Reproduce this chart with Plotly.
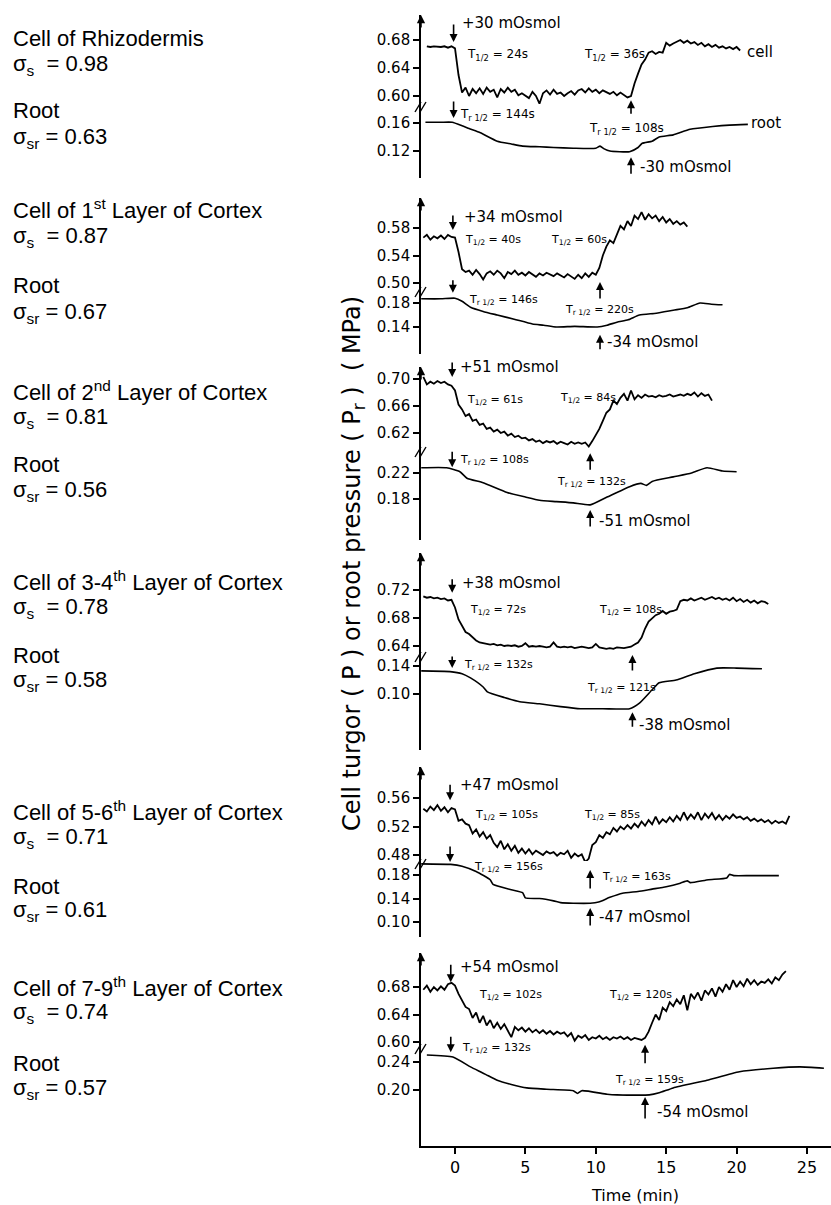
import plotly.graph_objects as go

W, H = 831, 1205
STEP = 0.25  # sampling interval of the cell turgor records (min)

# ------------------------------------------------------------------ data
# Panel 1 : Rhizodermis
cell1_t0 = -2.0
cell1 = [
    0.671, 0.670, 0.671, 0.670,
    0.670, 0.671, 0.669, 0.671,
    0.668, 0.630, 0.605, 0.612,
    0.600, 0.610, 0.604, 0.611,
    0.603, 0.612, 0.606, 0.609,
    0.598, 0.610, 0.605, 0.612,
    0.606, 0.609, 0.601, 0.604,
    0.600, 0.597, 0.606, 0.600,
    0.589, 0.604, 0.608, 0.602,
    0.609, 0.603, 0.605, 0.600,
    0.604, 0.607, 0.602, 0.608,
    0.610, 0.605, 0.611, 0.606,
    0.609, 0.604, 0.608, 0.605,
    0.603, 0.606, 0.601, 0.605,
    0.602, 0.598, 0.600, 0.618,
    0.632, 0.645, 0.652, 0.662,
    0.664, 0.660, 0.663, 0.662,
    0.676, 0.672, 0.675, 0.678,
    0.680, 0.676, 0.679, 0.675,
    0.677, 0.673, 0.676, 0.671,
    0.674, 0.670, 0.673, 0.669,
    0.671, 0.668, 0.670, 0.667,
    0.670, 0.665,
]
root1_t = [-2.1, -1.0, -0.2, 0.5, 1.0, 1.8, 3.0, 4.0, 4.8, 6.0, 7.0, 8.4, 10.0, 10.3,
           10.6, 11.0, 12.4, 13.0, 13.3, 14.0, 14.5, 15.5, 16.7, 18.3, 19.5, 20.8]
root1 = [0.161, 0.161, 0.161, 0.156, 0.152, 0.146, 0.134, 0.130, 0.127, 0.126, 0.125,
         0.124, 0.124, 0.127, 0.123, 0.120, 0.119, 0.125, 0.131, 0.134, 0.140, 0.143,
         0.151, 0.155, 0.157, 0.158]

# Panel 2 : 1st layer of cortex
cell2_t0 = -2.25
cell2 = [
    0.566, 0.570, 0.563, 0.568, 0.565,
    0.569, 0.564, 0.570, 0.567,
    0.566, 0.545, 0.520, 0.516,
    0.518, 0.512, 0.519, 0.513,
    0.505, 0.514, 0.517, 0.512,
    0.518, 0.514, 0.507, 0.516,
    0.513, 0.518, 0.512, 0.515,
    0.511, 0.516, 0.513, 0.509,
    0.514, 0.511, 0.515, 0.512,
    0.510, 0.514, 0.511, 0.508,
    0.513, 0.510, 0.506, 0.512,
    0.507, 0.514, 0.509, 0.515,
    0.512, 0.522, 0.540, 0.553,
    0.562, 0.558, 0.570, 0.583,
    0.578, 0.590, 0.583, 0.598,
    0.593, 0.603, 0.592, 0.600,
    0.594, 0.598, 0.590, 0.596,
    0.588, 0.593, 0.586, 0.590,
    0.585, 0.588, 0.582,
]
root2_t = [-2.4, -1.0, 0.0, 0.5, 1.1, 2.0, 3.0, 4.2, 5.5, 6.3, 7.2, 8.5, 10.1, 10.8,
           11.5, 12.3, 13.1, 14.3, 15.5, 16.5, 17.4, 18.2, 19.0]
root2 = [0.187, 0.187, 0.188, 0.183, 0.173, 0.166, 0.160, 0.153, 0.145, 0.143, 0.140,
         0.141, 0.140, 0.143, 0.148, 0.152, 0.160, 0.163, 0.168, 0.172, 0.180, 0.178,
         0.177]

# Panel 3 : 2nd layer of cortex
cell3_t0 = -2.25
cell3 = [
    0.703, 0.692, 0.696, 0.693, 0.697,
    0.694, 0.696, 0.692, 0.690,
    0.683, 0.662, 0.655, 0.645,
    0.648, 0.638, 0.640, 0.632,
    0.634, 0.626, 0.628, 0.622,
    0.625, 0.620, 0.622, 0.616,
    0.619, 0.614, 0.616, 0.612,
    0.613, 0.609, 0.611, 0.607,
    0.609, 0.605, 0.608, 0.606,
    0.608, 0.604, 0.607, 0.605,
    0.603, 0.607, 0.604, 0.606,
    0.604, 0.606, 0.600, 0.608,
    0.616, 0.626, 0.638, 0.650,
    0.655, 0.668, 0.663, 0.672,
    0.678, 0.668, 0.683, 0.670,
    0.676, 0.672, 0.677, 0.674,
    0.675, 0.673, 0.676, 0.674,
    0.675, 0.677, 0.674, 0.676,
    0.677, 0.675, 0.678, 0.676,
    0.680, 0.674, 0.679, 0.675,
    0.677, 0.668,
]
root3_t = [-2.4, -0.6, 0.35, 0.85, 2.0, 3.7, 5.0, 6.0, 7.2, 8.4, 9.6, 10.8, 12.4, 13.2,
           13.6, 14.0, 15.5, 16.8, 17.9, 19.0, 20.0]
root3 = [0.228, 0.228, 0.222, 0.212, 0.205, 0.190, 0.183, 0.178, 0.176, 0.174, 0.171,
         0.183, 0.199, 0.204, 0.201, 0.207, 0.214, 0.220, 0.228, 0.223, 0.222]

# Panel 4 : 3-4th layer of cortex
cell4_t0 = -2.25
cell4 = [
    0.711, 0.709, 0.710, 0.708, 0.709,
    0.707, 0.708, 0.705, 0.706,
    0.695, 0.678, 0.668, 0.660,
    0.657, 0.652, 0.648, 0.645,
    0.644, 0.643, 0.642, 0.643,
    0.641, 0.642, 0.640, 0.641,
    0.640, 0.641, 0.639, 0.640,
    0.644, 0.639, 0.640, 0.639,
    0.640, 0.639, 0.638, 0.639,
    0.645, 0.639, 0.638, 0.639,
    0.638, 0.639, 0.637, 0.638,
    0.639, 0.638, 0.637, 0.638,
    0.643, 0.638, 0.637, 0.636,
    0.637, 0.636, 0.638, 0.637,
    0.637, 0.638, 0.639, 0.642,
    0.645, 0.652, 0.665, 0.675,
    0.680, 0.684, 0.686, 0.690,
    0.686, 0.689, 0.690, 0.692,
    0.704, 0.706, 0.705, 0.708,
    0.705, 0.707, 0.709, 0.706,
    0.708, 0.710, 0.707, 0.709,
    0.706, 0.708, 0.705, 0.709,
    0.704, 0.707, 0.703, 0.706,
    0.702, 0.705, 0.701, 0.704,
    0.703, 0.700,
]
root4_t = [-2.4, -0.35, 0.5, 1.1, 2.0, 2.3, 3.5, 4.6, 6.0, 7.5, 8.9, 10.5, 12.4, 13.1,
           14.0, 14.5, 15.7, 17.0, 18.6, 20.0, 21.8]
root4 = [0.133, 0.132, 0.129, 0.123, 0.110, 0.103, 0.095, 0.089, 0.086, 0.082, 0.079,
         0.079, 0.079, 0.087, 0.106, 0.116, 0.120, 0.129, 0.137, 0.137, 0.136]

# Panel 5 : 5-6th layer of cortex
cell5_t0 = -2.25
cell5 = [
    0.545, 0.541, 0.548, 0.543, 0.550,
    0.542, 0.547, 0.540, 0.546,
    0.544, 0.528, 0.530, 0.524,
    0.522, 0.510, 0.516, 0.506,
    0.512, 0.503, 0.508, 0.497,
    0.491, 0.500, 0.488, 0.495,
    0.486, 0.493, 0.483, 0.489,
    0.482, 0.488, 0.481, 0.486,
    0.483, 0.480, 0.485, 0.482,
    0.484, 0.479, 0.483, 0.481,
    0.486, 0.476, 0.482, 0.478,
    0.481, 0.470, 0.475, 0.494,
    0.498, 0.508, 0.504, 0.512,
    0.509, 0.518, 0.513, 0.520,
    0.516, 0.522, 0.517, 0.524,
    0.519, 0.527, 0.521, 0.529,
    0.523, 0.534, 0.524, 0.530,
    0.526, 0.533, 0.527, 0.535,
    0.529, 0.540, 0.530, 0.537,
    0.531, 0.540, 0.529, 0.538,
    0.532, 0.539, 0.530, 0.536,
    0.529, 0.535, 0.531, 0.537,
    0.532, 0.534, 0.530, 0.533,
    0.528, 0.531, 0.527, 0.530,
    0.526, 0.529, 0.524, 0.528,
    0.525, 0.527, 0.524, 0.535,
]
root5_t = [-2.4, -0.3, 0.5, 1.5, 2.5, 2.7, 4.0, 4.8, 5.0, 6.0, 7.0, 7.5, 8.4, 9.6, 10.2,
           11.0, 11.9, 13.0, 14.0, 15.0, 16.0, 16.5, 16.7, 18.0, 19.3, 19.5, 19.8, 21.0,
           23.0]
root5 = [0.199, 0.198, 0.195, 0.186, 0.172, 0.164, 0.155, 0.150, 0.141, 0.140, 0.136,
         0.133, 0.132, 0.132, 0.134, 0.142, 0.149, 0.152, 0.156, 0.160, 0.166, 0.170,
         0.167, 0.172, 0.175, 0.181, 0.179, 0.179, 0.179]

# Panel 6 : 7-9th layer of cortex
cell6_t0 = -2.25
cell6 = [
    0.676, 0.682, 0.673, 0.680, 0.675,
    0.681, 0.676, 0.684, 0.686,
    0.682, 0.670, 0.660, 0.651,
    0.648, 0.635, 0.643, 0.628,
    0.638, 0.624, 0.632, 0.620,
    0.628, 0.619, 0.626, 0.616,
    0.607, 0.622, 0.617, 0.621,
    0.615, 0.620, 0.614, 0.618,
    0.613, 0.617, 0.612, 0.616,
    0.611, 0.615, 0.612, 0.614,
    0.608, 0.613, 0.602, 0.609,
    0.606, 0.610, 0.603, 0.607,
    0.605, 0.609, 0.604, 0.607,
    0.603, 0.607, 0.605, 0.608,
    0.604, 0.607, 0.603, 0.606,
    0.605, 0.603, 0.606, 0.615,
    0.628, 0.640, 0.632, 0.650,
    0.645, 0.658, 0.652, 0.662,
    0.655, 0.668, 0.646, 0.670,
    0.663, 0.672, 0.660, 0.675,
    0.669, 0.678, 0.666, 0.680,
    0.673, 0.684, 0.676, 0.690,
    0.680, 0.688, 0.681, 0.692,
    0.684, 0.690, 0.683, 0.688,
    0.686, 0.691, 0.685, 0.694,
    0.690, 0.698, 0.703,
]
root6_t = [-2.0, -0.15, 1.1, 1.8, 2.2, 3.0, 4.0, 5.1, 6.5, 8.4, 8.7, 9.0, 10.8, 11.5,
           13.8, 14.5, 15.5, 17.9, 20.2, 22.6, 24.5, 26.2]
root6 = [0.250, 0.247, 0.233, 0.226, 0.222, 0.214, 0.208, 0.203, 0.201, 0.199, 0.195,
         0.199, 0.194, 0.193, 0.193, 0.196, 0.203, 0.214, 0.226, 0.231, 0.233, 0.231]

cell_series = [(cell1_t0, cell1), (cell2_t0, cell2), (cell3_t0, cell3),
               (cell4_t0, cell4), (cell5_t0, cell5), (cell6_t0, cell6)]
root_series = [(root1_t, root1), (root2_t, root2), (root3_t, root3),
               (root4_t, root4), (root5_t, root5), (root6_t, root6)]

cell_ticks = [[0.60, 0.64, 0.68], [0.50, 0.54, 0.58], [0.62, 0.66, 0.70],
              [0.64, 0.68, 0.72], [0.48, 0.52, 0.56], [0.60, 0.64, 0.68]]
root_ticks = [[0.12, 0.16], [0.14, 0.18], [0.18, 0.22],
              [0.10, 0.14], [0.10, 0.14, 0.18], [0.20, 0.24]]

x_ticks = [0, 5, 10, 15, 20, 25]

cell_titles = ["Cell of Rhizodermis",
               "Cell of 1<sup>st</sup> Layer of Cortex",
               "Cell of 2<sup>nd</sup> Layer of Cortex",
               "Cell of 3-4<sup>th</sup> Layer of Cortex",
               "Cell of 5-6<sup>th</sup> Layer of Cortex",
               "Cell of 7-9<sup>th</sup> Layer of Cortex"]
sigma_s = ["0.98", "0.87", "0.81", "0.78", "0.71", "0.74"]
sigma_sr = ["0.63", "0.67", "0.56", "0.58", "0.61", "0.57"]

osmol = ["30", "34", "51", "38", "47", "54"]
t_half_cell = [("24s", "36s"), ("40s", "60s"), ("61s", "84s"),
               ("72s", "108s"), ("105s", "85s"), ("102s", "120s")]
t_half_root = [("144s", "108s"), ("146s", "220s"), ("108s", "132s"),
               ("132s", "121s"), ("156s", "163s"), ("132s", "159s")]

# ------------------------------------------------------------------ layout geometry (pixels)
X0_PX, X_ZERO_PX, PX_PER_MIN = 421, 455, 14.08
x_range = [(X0_PX - X_ZERO_PX) / PX_PER_MIN, (W - X_ZERO_PX) / PX_PER_MIN]

# top, break, bottom, cell tick anchors (hi value, px, lo value, px), root tick anchors
panels = [
    dict(top=15, brk=107, bot=178, c=(0.68, 40, 0.60, 96), r=(0.16, 123, 0.12, 151)),
    dict(top=198, brk=292, bot=354, c=(0.58, 228, 0.50, 283), r=(0.18, 303, 0.14, 327)),
    dict(top=367, brk=452, bot=540, c=(0.70, 379, 0.62, 433), r=(0.22, 473, 0.18, 499)),
    dict(top=553, brk=657, bot=750, c=(0.72, 590, 0.64, 646), r=(0.14, 666, 0.10, 694)),
    dict(top=767, brk=864, bot=937, c=(0.56, 798, 0.48, 855), r=(0.18, 875, 0.10, 922)),
    dict(top=953, brk=1049, bot=1146, c=(0.68, 987, 0.60, 1042), r=(0.24, 1062, 0.20, 1090)),
]


def px(yp):
    return 1 - yp / H


def axis_setup(anchor, top, bottom):
    v_hi, p_hi, v_lo, p_lo = anchor
    s = (v_hi - v_lo) / (p_lo - p_hi)
    rng = [v_hi - (bottom - p_hi) * s, v_hi + (p_hi - top) * s]
    return rng, [px(bottom), px(top)]


def xpaper(t):
    return (X_ZERO_PX + t * PX_PER_MIN) / W


def ypaper(i, which, v):
    v_hi, p_hi, v_lo, p_lo = panels[i][which]
    s = (v_hi - v_lo) / (p_lo - p_hi)
    return px(p_hi + (v_hi - v) / s)


TICKFONT = dict(family="DejaVu Sans", size=15, color="black")
ANNFONT = "DejaVu Sans"

fig = go.Figure()
layout = dict(
    width=W, height=H, margin=dict(l=0, r=0, t=0, b=0),
    paper_bgcolor="white", plot_bgcolor="white", showlegend=False,
    xaxis=dict(domain=[X0_PX / W, 1.0], range=x_range, anchor="y12",
               showline=True, linecolor="black", linewidth=1.6, ticks="outside",
               ticklen=6, tickwidth=1.5, tickcolor="black", tickvals=x_ticks,
               ticktext=[str(v) for v in x_ticks], showgrid=False, zeroline=False,
               tickfont=dict(family="DejaVu Sans", size=16, color="black")),
)

annotations = []
shapes = []

for i, p in enumerate(panels):
    ci, ri = 2 * i + 1, 2 * i + 2
    c_rng, c_dom = axis_setup(p["c"], p["top"], p["brk"] + 3)
    r_rng, r_dom = axis_setup(p["r"], p["brk"] - 3, p["bot"])
    for idx, rng, dom, tv in ((ci, c_rng, c_dom, cell_ticks[i]), (ri, r_rng, r_dom, root_ticks[i])):
        layout["yaxis" if idx == 1 else f"yaxis{idx}"] = dict(
            domain=dom, range=rng, anchor="x", showline=True, linecolor="black",
            linewidth=1.6, ticks="outside", ticklen=6, tickwidth=1.5, tickcolor="black",
            tickvals=tv, ticktext=[f"{v:.2f}" for v in tv], showgrid=False,
            zeroline=False, tickfont=TICKFONT)

    t0, vals = cell_series[i]
    fig.add_trace(go.Scatter(x=[t0 + k * STEP for k in range(len(vals))], y=vals,
                             mode="lines", line=dict(color="black", width=1.8),
                             xaxis="x", yaxis="y" if ci == 1 else f"y{ci}",
                             hoverinfo="skip"))
    rt, rv = root_series[i]
    fig.add_trace(go.Scatter(x=rt, y=rv, mode="lines",
                             line=dict(color="black", width=1.6, shape="spline", smoothing=0.5),
                             xaxis="x", yaxis=f"y{ri}", hoverinfo="skip"))

    # arrow on top of each y-axis
    annotations.append(dict(x=X0_PX / W, y=px(p["top"]), xref="paper", yref="paper",
                            text="", showarrow=True, ax=0, ay=14, arrowhead=2,
                            arrowsize=1.1, arrowwidth=1.5, arrowcolor="black"))
    # axis break marks
    for dx in (0, 5):
        shapes.append(dict(type="line", xref="paper", yref="paper",
                           x0=(X0_PX - 6 + dx) / W, y0=px(p["brk"] + 5),
                           x1=(X0_PX + dx) / W, y1=px(p["brk"] - 5),
                           line=dict(color="black", width=1.4)))

layout["annotations"] = annotations
layout["shapes"] = shapes
fig.update_layout(**layout)


def arrow(i, which, t, v, ay):
    fig.add_annotation(x=xpaper(t), y=ypaper(i, which, v), xref="paper", yref="paper",
                       text="", showarrow=True, ax=0, ay=ay, arrowhead=2, arrowsize=1.0,
                       arrowwidth=1.6, arrowcolor="black")


def label(i, which, t, v, text, size=11):
    fig.add_annotation(x=xpaper(t), y=ypaper(i, which, v), xref="paper", yref="paper",
                       text=text, showarrow=False, xanchor="left", yanchor="middle",
                       font=dict(family=ANNFONT, size=size, color="black"))


T = "T<sub>1/2</sub>"
TR = "T<sub>r 1/2</sub>"

# per-panel arrows: (cell down), (cell up), (root down), (root up)
arrow_spec = [
    [("c", -0.1, 0.677, -19), ("c", 12.5, 0.594, 15), ("r", -0.1, 0.167, -18), ("r", 12.5, 0.111, 18)],
    [("c", -0.15, 0.577, -16), ("c", 10.3, 0.5015, 18), ("r", -0.15, 0.197, -14), ("r", 10.3, 0.127, 16)],
    [("c", -0.2, 0.703, -16), ("c", 9.6, 0.590, 18), ("r", -0.2, 0.229, -17), ("r", 9.6, 0.163, 18)],
    [("c", -0.2, 0.716, -15), ("c", 12.6, 0.627, 17), ("r", -0.2, 0.137, -13), ("r", 12.6, 0.074, 16)],
    [("c", -0.35, 0.557, -17), ("r", 9.6, 0.1885, 20), ("r", -0.35, 0.202, -17), ("r", 9.6, 0.124, 19)],
    [("c", -0.3, 0.687, -19), ("c", 13.5, 0.596, 20), ("r", -0.3, 0.254, -17), ("r", 13.5, 0.190, 23)],
]
# label positions: +osmol, T1/2 a, T1/2 b, Tr a, Tr b, -osmol
label_pos = [
    [("c", 0.35, 0.704), ("c", 0.7, 0.659), ("c", 9.0, 0.659), ("r", 0.2, 0.171), ("r", 9.4, 0.152), ("r", 13.0, 0.097)],
    [("c", 0.5, 0.596), ("c", 0.55, 0.563), ("c", 6.7, 0.563), ("r", 0.85, 0.185), ("r", 7.7, 0.168), ("r", 10.65, 0.115)],
    [("c", 0.2, 0.718), ("c", 0.7, 0.669), ("c", 7.3, 0.672), ("r", 0.2, 0.240), ("r", 7.1, 0.206), ("r", 10.1, 0.146)],
    [("c", 0.35, 0.730), ("c", 0.9, 0.691), ("c", 10.1, 0.691), ("r", 0.5, 0.141), ("r", 9.2, 0.109), ("r", 12.9, 0.056)],
    [("c", 0.2, 0.578), ("c", 1.3, 0.536), ("c", 9.0, 0.536), ("r", 1.2, 0.194), ("r", 10.3, 0.177), ("r", 10.1, 0.108)],
    [("c", 0.2, 0.709), ("c", 1.55, 0.668), ("c", 10.8, 0.668), ("r", 0.35, 0.260), ("r", 11.2, 0.214), ("r", 14.2, 0.169)],
]

for i in range(6):
    for w, t, v, ay in arrow_spec[i]:
        arrow(i, w, t, v, ay)
    lp = label_pos[i]
    tsize = 12 if i == 0 else 11
    label(i, lp[0][0], lp[0][1], lp[0][2], f"+{osmol[i]} mOsmol", 15)
    label(i, lp[1][0], lp[1][1], lp[1][2], f"{T} = {t_half_cell[i][0]}", tsize)
    label(i, lp[2][0], lp[2][1], lp[2][2], f"{T} = {t_half_cell[i][1]}", tsize)
    label(i, lp[3][0], lp[3][1], lp[3][2], f"{TR} = {t_half_root[i][0]}", tsize)
    label(i, lp[4][0], lp[4][1], lp[4][2], f"{TR} = {t_half_root[i][1]}", tsize)
    label(i, lp[5][0], lp[5][1], lp[5][2], f"-{osmol[i]} mOsmol", 15)

label(0, "c", 20.6, 0.663, "cell", 15)
label(0, "r", 20.9, 0.160, "root", 15)

# left-hand descriptions
left_y = [(39, 65, 110, 138), (209, 237, 285, 313), (391, 418, 465, 491),
          (581, 608, 655, 681), (811, 838, 886, 911), (987, 1013, 1063, 1089)]
LFONT = dict(family="Liberation Sans", size=22, color="black")
for i in range(6):
    y1, y2, y3, y4 = left_y[i]
    for text, yp in ((cell_titles[i], y1),
                     (f"σ<sub>s</sub>  = {sigma_s[i]}", y2),
                     ("Root", y3),
                     (f"σ<sub>sr</sub> = {sigma_sr[i]}", y4)):
        fig.add_annotation(x=11 / W, y=px(yp), xref="paper", yref="paper", text=text,
                           showarrow=False, xanchor="left", yanchor="middle", font=LFONT)

# axis titles
fig.add_annotation(x=353 / W, y=px(564), xref="paper", yref="paper", textangle=-90,
                   text="Cell turgor ( P ) or root pressure ( P<sub>r</sub> )  ( MPa)",
                   showarrow=False, xanchor="center", yanchor="middle",
                   font=dict(family="DejaVu Sans", size=24, color="black"))
fig.add_annotation(x=635 / W, y=px(1195), xref="paper", yref="paper", text="Time (min)",
                   showarrow=False, xanchor="center", yanchor="middle",
                   font=dict(family="DejaVu Sans", size=16, color="black"))

fig.write_html("out.html",
               config={"displayModeBar": False},
               post_script="document.body.style.margin='0px';"
                           "document.body.style.overflow='hidden';")
